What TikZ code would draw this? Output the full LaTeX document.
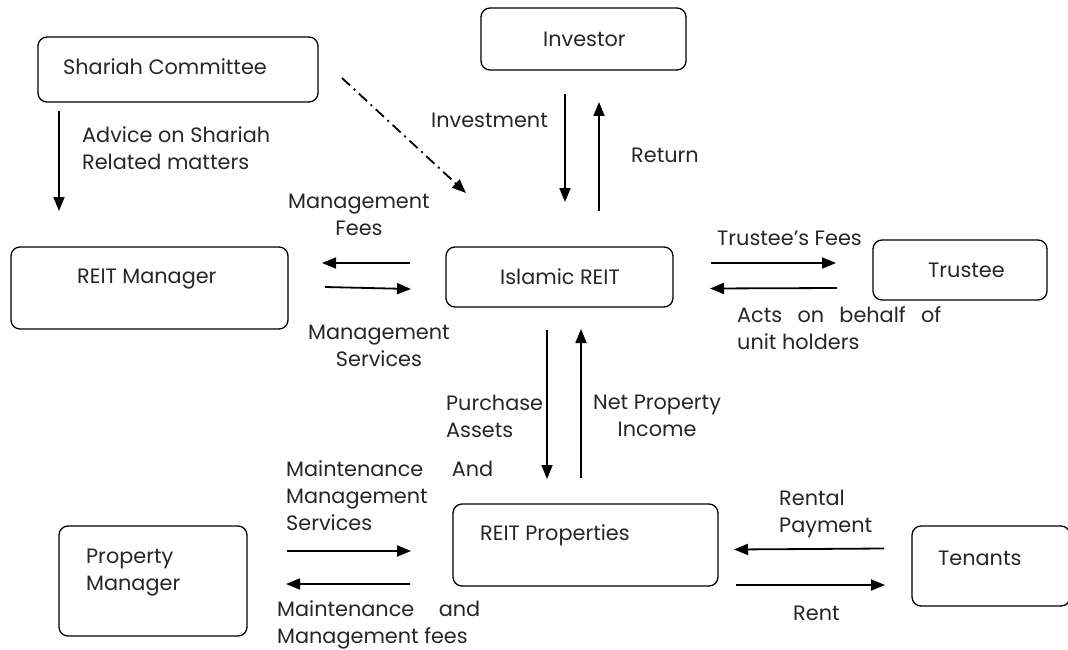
\documentclass[tikz,border=0pt]{standalone}
\usepackage{fontspec}
\setmainfont{Poppins}
\usetikzlibrary{arrows.meta}

\tikzset{
    box/.style={draw, rounded corners=9pt, line width=1.3pt, inner sep=0pt},
    txt/.style={anchor=west, inner sep=0pt, align=left, text=black!85, yshift=-2pt,
        font=\fontsize{20.8}{27}\selectfont},
    flow/.style={line width=1.8pt, -{Triangle[length=14pt,width=11pt]}},
}

\begin{document}
\begin{tikzpicture}[x=1pt,y=1pt,yscale=-1,xscale=1]
    \useasboundingbox (0,0) rectangle (1068,650);

    %Shape: boxes
    \node[box, minimum width=280pt, minimum height=65pt] (sc) at (178,69.5) {};
    \node[box, minimum width=205pt, minimum height=62pt] (inv) at (583.5,39) {};
    \node[box, minimum width=277pt, minimum height=82pt] (rm) at (149.5,288) {};
    \node[box, minimum width=227pt, minimum height=60pt] (ir) at (559.5,277) {};
    \node[box, minimum width=174pt, minimum height=60pt] (tr) at (960,270) {};
    \node[box, minimum width=188pt, minimum height=110pt] (pm) at (153,581) {};
    \node[box, minimum width=265pt, minimum height=82pt] (rp) at (585.5,545) {};
    \node[box, minimum width=158pt, minimum height=80pt] (tn) at (991,566) {};

    % Text Node: box names
    \node[txt] (scT) at (63,65) {Shariah Committee};
    \node[txt] (invT) at (543,37) {Investor};
    \node[txt] (rmT) at (77,277) {REIT Manager};
    \node[txt] (irT) at (500,275) {Islamic REIT};
    \node[txt] (trT) at (928,268) {Trustee};
    \node[txt] (pmT) at (86,570.5) {Property\\Manager};
    \node[txt] (rpT) at (480,533) {REIT Properties};
    \node[txt] (tnT) at (938,556) {Tenants};

    %Straight Lines: end points
    \coordinate (advA) at (59,111);   \coordinate (advB) at (59,211);
    \coordinate (ddA) at (342,78);    \coordinate (ddB) at (466,193);
    \coordinate (invA) at (565,94);   \coordinate (invB) at (565,202);
    \coordinate (retA) at (599,211);  \coordinate (retB) at (599,102);
    \coordinate (mfA) at (410,263);   \coordinate (mfB) at (322,263);
    \coordinate (msA) at (325,287);   \coordinate (msB) at (411,289);
    \coordinate (tfA) at (711,263);   \coordinate (tfB) at (836,263);
    \coordinate (abA) at (837,288);   \coordinate (abB) at (710,288.5);
    \coordinate (paA) at (547,330);   \coordinate (paB) at (547,479);
    \coordinate (npA) at (581,478);   \coordinate (npB) at (581,329);
    \coordinate (mxA) at (287,551);   \coordinate (mxB) at (411,551);
    \coordinate (mgA) at (410,584);   \coordinate (mgB) at (286,584);
    \coordinate (rpyA) at (884,548.5); \coordinate (rpyB) at (734,549.5);
    \coordinate (rntA) at (736,585);  \coordinate (rntB) at (885,585);

    \draw[flow] (advA) -- (advB);
    \draw[flow, dash pattern=on 11pt off 5pt on 2pt off 5pt] (ddA) -- (ddB);
    \draw[flow] (invA) -- (invB);
    \draw[flow] (retA) -- (retB);
    \draw[flow] (mfA) -- (mfB);
    \draw[flow] (msA) -- (msB);
    \draw[flow] (tfA) -- (tfB);
    \draw[flow] (abA) -- (abB);
    \draw[flow] (paA) -- (paB);
    \draw[flow] (npA) -- (npB);
    \draw[flow] (mxA) -- (mxB);
    \draw[flow] (mgA) -- (mgB);
    \draw[flow] (rpyA) -- (rpyB);
    \draw[flow] (rntA) -- (rntB);

    % Text Node: arrow labels
    \node[txt] (lAdv) at (82,146.5) {Advice on Shariah\\Related matters};
    \node[txt] (lInv) at (431,118) {Investment};
    \node[txt] (lRet) at (631,153) {Return};
    \node[txt, align=center] (lMf) at (288,212.5) {Management\\Fees};
    \node[txt] (lTf) at (717,236) {Trustee's Fees};
    \node[txt, align=center] (lMs) at (308,343.5) {Management\\Services};
    \node[txt] (lAb) at (737,326.5) {\makebox[204pt][s]{Acts on behalf of}\\unit holders};
    \node[txt] (lPa) at (446,414) {Purchase\\Assets};
    \node[txt, align=center] (lNp) at (593,414) {Net Property\\Income};
    \node[txt] (lMx) at (286,493.5) {\makebox[207pt][s]{Maintenance And}\\Management\\Services};
    \node[txt] (lMg) at (277,623) {\makebox[203pt][s]{Maintenance and}\\Management fees};
    \node[txt] (lRpy) at (779,512) {Rental\\Payment};
    \node[txt] (lRnt) at (793,611) {Rent};

\end{tikzpicture}
\end{document}
